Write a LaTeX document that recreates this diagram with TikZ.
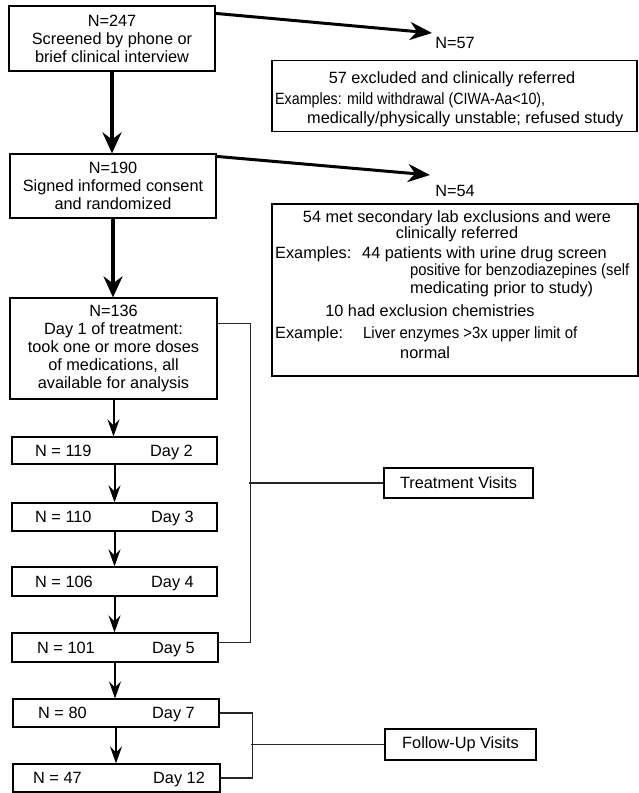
\documentclass[tikz,border=0pt]{standalone}
\usepackage{fontspec}
\setmainfont{Liberation Sans}
\usetikzlibrary{arrows.meta,calc}
\newcommand\fsz{\fontsize{16.3}{18}\selectfont}
\newcommand\squeeze[2]{\resizebox{#1pt}{\height}{#2}}
\tikzset{
  box/.style={draw, line width=1.2pt, inner sep=0pt, align=center, font=\fsz},
  daybox/.style={draw, line width=1.2pt, inner sep=0pt, minimum width=205pt, minimum height=28pt},
  txt/.style={inner sep=0pt, font=\fsz, text height=11.7pt, text depth=0pt},
  bigarrow/.style={line width=3.8pt, -{Stealth[length=21pt,width=19pt,inset=7pt]}},
  diagarrow/.style={line width=3pt, -{Stealth[length=22pt,width=18pt,inset=7pt]}},
  smallarrow/.style={line width=2pt, -{Stealth[length=17pt,width=12pt,inset=6pt]}},
  bracket/.style={line width=1.1pt, black!85}
}
\begin{document}
\begin{tikzpicture}[x=1pt,y=-1pt]
\useasboundingbox (0,0) rectangle (639,793);
% main column
\node[box, minimum width=206pt, minimum height=65pt] (b1) at (112,38.5) {N=247\\Screened by phone or\\brief clinical interview};
\node[box, minimum width=206pt, minimum height=64pt] (b3) at (113,186) {N=190\\Signed informed consent\\and randomized};
\node[box, minimum width=207pt, minimum height=101pt] (b5) at (113.5,348.5) {N=136\\Day 1 of treatment:\\took one or more doses\\of medications, all\\available for analysis};
\draw[bigarrow] (b1.south) -- (b1.south |- b3.north);
\draw[bigarrow] (b3.south) -- (b3.south |- b5.north);
% exclusions
\coordinate (t1) at (432,33);
\coordinate (t2) at (430,175);
\draw[diagarrow] ($(b1.north east)+(0,8)$) -- (t1);
\draw[diagarrow] ($(b3.north east)+(0,3)$) -- (t2);
\node[txt] (n57) at (455,43) {N=57};
\node[txt] (n54) at (455,191) {N=54};
\node[box, minimum width=365pt, minimum height=71pt] (x1) at (454.5,96) {};
\node[txt] (x1a) at (452,78) {57 excluded and clinically referred};
\node[txt, anchor=west] (x1b) at (275,99) {\squeeze{270}{Examples: mild withdrawal (CIWA-Aa<10),}};
\node[txt, anchor=west] (x1c) at (307,118) {medically/physically unstable; refused study};
\node[box, minimum width=366pt, minimum height=172pt] (x2) at (455,290) {};
\node[txt] (x2a) at (457,217) {54 met secondary lab exclusions and were};
\node[txt] (x2b) at (457,233) {clinically referred};
\node[txt, anchor=west] (x2c) at (275,253) {Examples:};
\node[txt, anchor=west] (x2d) at (362,253) {44 patients with urine drug screen};
\node[txt, anchor=west] (x2e) at (410,270) {\squeeze{219}{positive for benzodiazepines (self}};
\node[txt, anchor=west] (x2f) at (410,288) {medicating prior to study)};
\node[txt] (x2g) at (430,311) {10 had exclusion chemistries};
\node[txt, anchor=west] (x2h) at (275,333) {Example:};
\node[txt, anchor=west] (x2i) at (363,333) {\squeeze{214}{Liver enzymes >3x upper limit of}};
\node[txt, anchor=west] (x2j) at (400,353) {normal};
% day boxes
\node[daybox, minimum height=27pt] (d2) at (114.5,450.5) {};
\node[daybox] (d3) at (114.5,517) {};
\node[daybox, minimum height=29pt] (d4) at (114.5,581.5) {};
\node[daybox, minimum width=206pt, minimum height=29pt] (d5) at (115,647.5) {};
\node[daybox, minimum width=206pt] (d7) at (116,713) {};
\node[daybox, minimum width=207pt] (d12) at (116.5,778) {};
\node[txt, anchor=west] (d2n) at (35,450.5) {N = 119};
\node[txt, anchor=west] (d2d) at (150,450.5) {Day 2};
\node[txt, anchor=west] (d3n) at (35,517) {N = 110};
\node[txt, anchor=west] (d3d) at (151,517) {Day 3};
\node[txt, anchor=west] (d4n) at (35,581.5) {N = 106};
\node[txt, anchor=west] (d4d) at (151,581.5) {Day 4};
\node[txt, anchor=west] (d5n) at (37,647.5) {N = 101};
\node[txt, anchor=west] (d5d) at (152,647.5) {Day 5};
\node[txt, anchor=west] (d7n) at (38,713) {N = 80};
\node[txt, anchor=west] (d7d) at (152,713) {Day 7};
\node[txt, anchor=west] (d12n) at (33,778) {N = 47};
\node[txt, anchor=west] (d12d) at (153,778) {Day 12};
\draw[smallarrow] (b5.south) -- (b5.south |- d2.north);
\draw[smallarrow] (d2.south) -- (d2.south |- d3.north);
\draw[smallarrow] (d3.south) -- (d3.south |- d4.north);
\draw[smallarrow] (d4.south) -- (d4.south |- d5.north);
\draw[smallarrow] (d5.south) -- (d5.south |- d7.north);
\draw[smallarrow] (d7.south) -- (d7.south |- d12.north);
% visit labels
\node[box, minimum width=149pt, minimum height=30pt] (tv) at (458.5,483) {Treatment Visits};
\node[box, minimum width=151pt, minimum height=31pt] (fu) at (460.5,744.5) {Follow-Up Visits};
\coordinate (ta) at ($(b5.north east)+(0,26)$);
\coordinate (tb) at ($(d5.east)+(0,-5)$);
\draw[bracket] (ta) -- ++(33,0) |- (tb);
\draw[bracket] (tv.west) -- ++(-134,0);
\draw[bracket] (d7.east) -- ++(33,0) |- (d12.east);
\draw[bracket] (fu.west) -- ++(-133,0);
\end{tikzpicture}
\end{document}
